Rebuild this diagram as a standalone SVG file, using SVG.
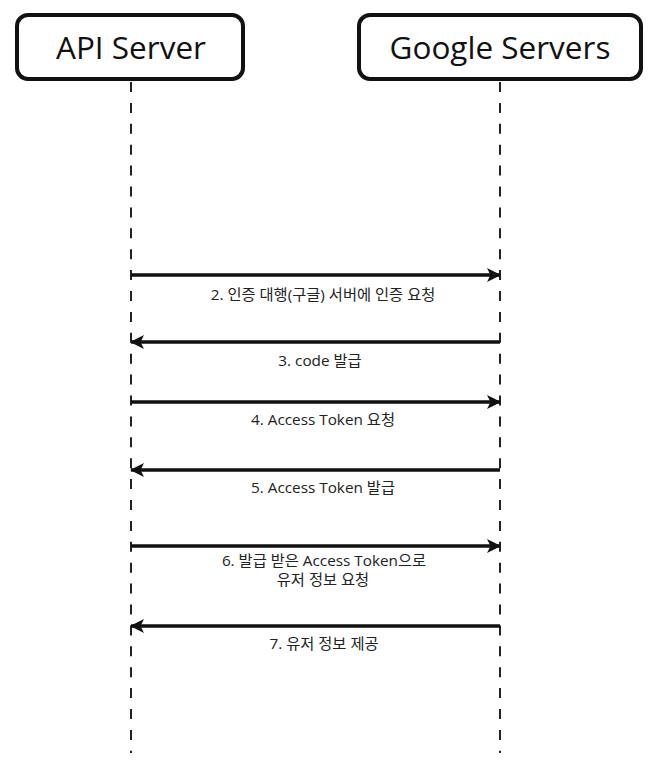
<svg xmlns="http://www.w3.org/2000/svg" width="656" height="766" viewBox="0 0 656 766">
<defs>
<style>
.box{fill:#fff;stroke:#111;stroke-width:4}
.title{font-family:"Open Sans","Noto Sans",sans-serif;font-size:31.5px;fill:#111;text-anchor:middle}
.life{stroke:#222;stroke-width:2;stroke-dasharray:10 10.9}
.msg{stroke:#111;stroke-width:3.5;fill:none}
.lbl{font-family:"Open Sans","Noto Sans CJK KR",sans-serif;font-size:15.3px;fill:#222;text-anchor:middle}
</style>
<marker id="ah" viewBox="0 0 14 14" refX="13" refY="7" markerWidth="14" markerHeight="14" markerUnits="userSpaceOnUse" orient="auto">
<path d="M0,0 L14,7 L0,14 L3.5,7 Z" fill="#111"/>
</marker>
</defs>
<g id="api-server">
<rect class="box" x="17" y="15" width="226" height="64" rx="11"/>
<text class="title" x="131" y="59">API Server</text>
</g>
<g id="google-servers">
<rect class="box" x="359" y="15" width="282" height="64" rx="11"/>
<text class="title" x="500" y="59">Google Servers</text>
</g>
<g id="lifelines">
<line class="life" x1="131" y1="82" x2="131" y2="753"/>
<line class="life" x1="500" y1="82" x2="500" y2="753"/>
</g>
<g id="connectors">
<line class="msg" x1="131" y1="275" x2="500" y2="275" marker-end="url(#ah)"/>
<line class="msg" x1="500" y1="342" x2="131" y2="342" marker-end="url(#ah)"/>
<line class="msg" x1="131" y1="402" x2="500" y2="402" marker-end="url(#ah)"/>
<line class="msg" x1="500" y1="470" x2="131" y2="470" marker-end="url(#ah)"/>
<line class="msg" x1="131" y1="546" x2="500" y2="546" marker-end="url(#ah)"/>
<line class="msg" x1="500" y1="626" x2="131" y2="626" marker-end="url(#ah)"/>
</g>
<g id="labels">
<text class="lbl" x="323" y="300">2. 인증 대행(구글) 서버에 인증 요청</text>
<text class="lbl" x="320" y="366">3. code 발급</text>
<text class="lbl" x="323" y="425">4. Access Token 요청</text>
<text class="lbl" x="323" y="493">5. Access Token 발급</text>
<text class="lbl" x="324" y="566">6. 발급 받은 Access Token으로</text>
<text class="lbl" x="323" y="585">유저 정보 요청</text>
<text class="lbl" x="324" y="649">7. 유저 정보 제공</text>
</g>
</svg>
